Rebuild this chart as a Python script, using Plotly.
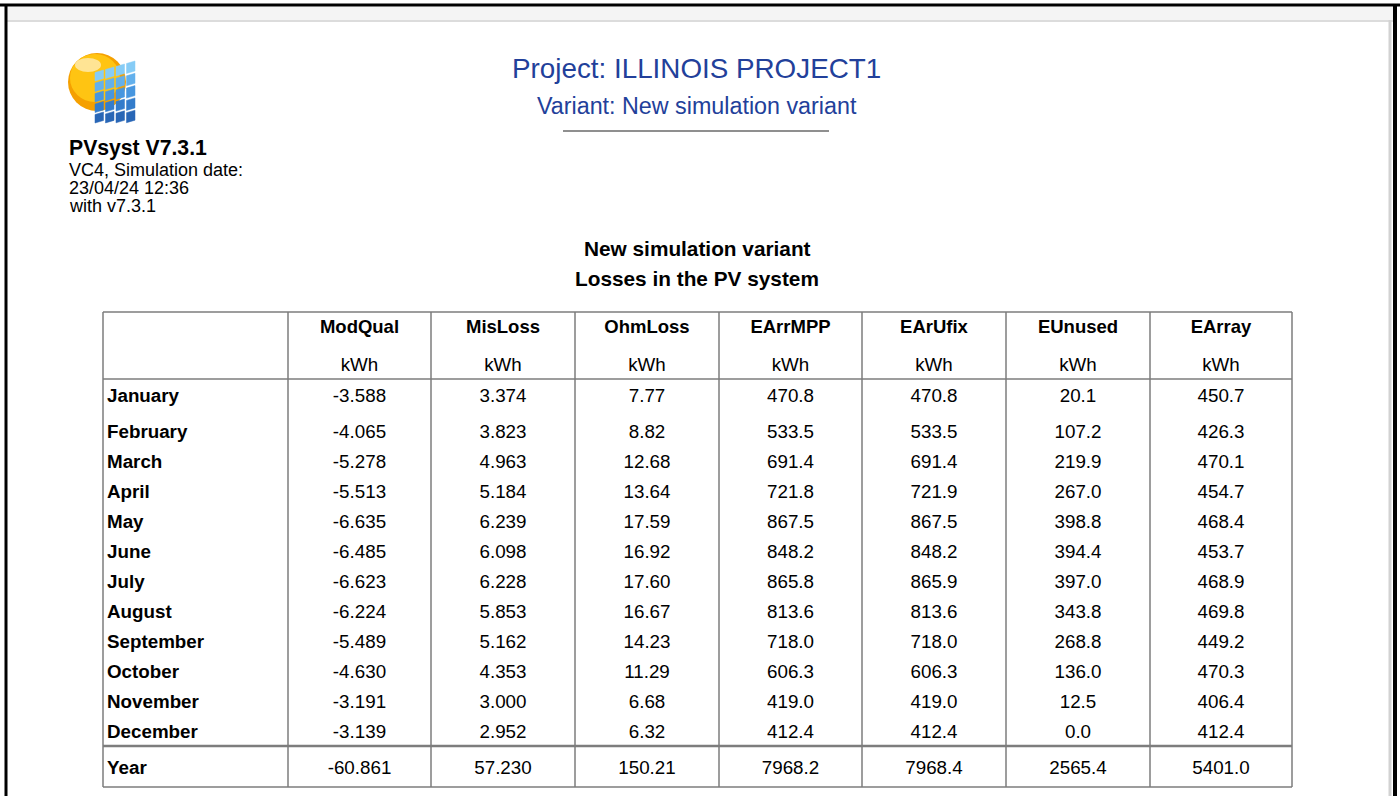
import plotly.graph_objects as go

# table data (PVsyst "Losses in the PV system")
months = ["January", "February", "March", "April", "May", "June", "July",
          "August", "September", "October", "November", "December"]
columns = ["ModQual", "MisLoss", "OhmLoss", "EArrMPP", "EArUfix", "EUnused", "EArray"]
units = ["kWh", "kWh", "kWh", "kWh", "kWh", "kWh", "kWh"]
decimals = [3, 3, 2, 1, 1, 1, 1]

mod_qual = [-3.588, -4.065, -5.278, -5.513, -6.635, -6.485, -6.623, -6.224, -5.489, -4.630, -3.191, -3.139]
mis_loss = [3.374, 3.823, 4.963, 5.184, 6.239, 6.098, 6.228, 5.853, 5.162, 4.353, 3.000, 2.952]
ohm_loss = [7.77, 8.82, 12.68, 13.64, 17.59, 16.92, 17.60, 16.67, 14.23, 11.29, 6.68, 6.32]
e_arr_mpp = [470.8, 533.5, 691.4, 721.8, 867.5, 848.2, 865.8, 813.6, 718.0, 606.3, 419.0, 412.4]
e_ar_ufix = [470.8, 533.5, 691.4, 721.9, 867.5, 848.2, 865.9, 813.6, 718.0, 606.3, 419.0, 412.4]
e_unused = [20.1, 107.2, 219.9, 267.0, 398.8, 394.4, 397.0, 343.8, 268.8, 136.0, 12.5, 0.0]
e_array = [450.7, 426.3, 470.1, 454.7, 468.4, 453.7, 468.9, 469.8, 449.2, 470.3, 406.4, 412.4]
year_label = "Year"
year_totals = [-60.861, 57.230, 150.21, 7968.2, 7968.4, 2565.4, 5401.0]

series = [mod_qual, mis_loss, ohm_loss, e_arr_mpp, e_ar_ufix, e_unused, e_array]

# page layout (pixel coordinates on a hidden 1400x796 axis)
W, H = 1400, 796
FONT = "Liberation Sans, Arial, sans-serif"
BLUE = "#22409a"
GRID = "#7d7d7d"
col_edges = [103, 288, 431, 575, 719, 862, 1006, 1150, 1292]
month_y = [397, 433, 463, 493, 523, 553, 583, 613, 643, 673, 703, 733]
year_y = 769
head_y, unit_y = 328, 366
tbl_top, head_bottom, year_sep, tbl_bottom = 312, 379, 746, 787
TS = 18.8

centers = [(col_edges[i] + col_edges[i + 1]) / 2 for i in range(1, len(col_edges) - 1)]

fig = go.Figure()

# column headers and units
fig.add_trace(go.Scatter(x=centers, y=[head_y] * len(columns), text=columns, mode="text",
                         textfont=dict(family=FONT, size=18.5, color="black", weight="bold"),
                         hoverinfo="skip"))
fig.add_trace(go.Scatter(x=centers, y=[unit_y] * len(units), text=units, mode="text",
                         textfont=dict(family=FONT, size=TS, color="black"), hoverinfo="skip"))

# row labels
fig.add_trace(go.Scatter(x=[col_edges[0] + 4] * (len(months) + 1), y=month_y + [year_y],
                         text=months + [year_label], mode="text", textposition="middle right",
                         textfont=dict(family=FONT, size=TS, color="black", weight="bold"),
                         hoverinfo="skip"))

# values
for cx, vals, d, tot in zip(centers, series, decimals, year_totals):
    labels = [f"{v:.{d}f}" for v in vals] + [f"{tot:.{d}f}"]
    fig.add_trace(go.Scatter(x=[cx] * len(labels), y=month_y + [year_y], text=labels, mode="text",
                             textfont=dict(family=FONT, size=TS, color="black"), hoverinfo="skip"))

shapes = []
# screenshot frame
shapes.append(dict(type="rect", x0=6, x1=1393, y0=7, y1=20, fillcolor="#f4f4f4", line_width=0, layer="below"))
shapes.append(dict(type="line", x0=6, x1=1393, y0=21, y1=21, line=dict(color="#dcdcdc", width=2)))
shapes.append(dict(type="line", x0=1390, x1=1390, y0=20, y1=H, line=dict(color="#d2d2d2", width=3)))
shapes.append(dict(type="line", x0=0, x1=W, y0=5, y1=5, line=dict(color="black", width=3)))
shapes.append(dict(type="line", x0=6, x1=6, y0=4, y1=H, line=dict(color="black", width=3)))
shapes.append(dict(type="line", x0=1395, x1=1395, y0=4, y1=H, line=dict(color="black", width=4)))

# variant underline
shapes.append(dict(type="line", x0=563, x1=829, y0=131, y1=131, line=dict(color="#6a6a6a", width=1.5)))

# table grid
for x in col_edges:
    shapes.append(dict(type="line", x0=x, x1=x, y0=tbl_top, y1=tbl_bottom, line=dict(color=GRID, width=1.5)))
for y in (tbl_top, head_bottom, tbl_bottom):
    shapes.append(dict(type="line", x0=col_edges[0], x1=col_edges[-1], y0=y, y1=y,
                       line=dict(color=GRID, width=1.5)))
shapes.append(dict(type="line", x0=col_edges[0], x1=col_edges[-1], y0=year_sep, y1=year_sep,
                   line=dict(color=GRID, width=2.5)))

# PVsyst logo: sun + panel
shapes.append(dict(type="circle", x0=68, x1=126, y0=53, y1=111, fillcolor="#f5a000", line_width=0))
shapes.append(dict(type="circle", x0=70, x1=120, y0=54, y1=102, fillcolor="#ffc412", line_width=0))
shapes.append(dict(type="circle", x0=75, x1=101, y0=58, y1=72, fillcolor="rgba(255,255,255,0.55)", line_width=0))
row_cols = ["#86ccf6", "#63b0ec", "#4796df", "#337ccb", "#2866b6"]
for i in range(4):
    x0 = 95 + i * 10.5
    x1 = x0 + 8.5
    top = 70 - i * 3.0
    for j, c in enumerate(row_cols):
        y0 = top + j * 10.5 + i * 0.6 * j
        y1 = y0 + 8.5 + i * 0.5
        sk = 2.5
        path = f"M{x0},{y0 + sk} L{x1},{y0} L{x1},{y1} L{x0},{y1 + sk} Z"
        shapes.append(dict(type="path", path=path, fillcolor=c, line=dict(color=c, width=0.5)))

annotations = [
    dict(x=696, y=68, text="Project: ILLINOIS PROJECT1", font=dict(family=FONT, size=27.8, color=BLUE)),
    dict(x=697, y=106, text="Variant: New simulation variant", font=dict(family=FONT, size=23.3, color=BLUE)),
    dict(x=697, y=248, text="New simulation variant", font=dict(family=FONT, size=20.8, color="black", weight="bold")),
    dict(x=697, y=278, text="Losses in the PV system", font=dict(family=FONT, size=20.8, color="black", weight="bold")),
    dict(x=67, y=148, text="PVsyst V7.3.1", xanchor="left", font=dict(family=FONT, size=21.2, color="black", weight="bold")),
    dict(x=67, y=170, text="VC4, Simulation date:", xanchor="left", font=dict(family=FONT, size=18, color="black")),
    dict(x=67, y=188, text="23/04/24 12:36", xanchor="left", font=dict(family=FONT, size=18, color="black")),
    dict(x=67, y=206, text="with v7.3.1", xanchor="left", font=dict(family=FONT, size=18, color="black")),
]
for a in annotations:
    a.update(xref="x", yref="y", showarrow=False, yanchor="middle")
    a.setdefault("xanchor", "center")

fig.update_layout(
    width=W, height=H,
    margin=dict(l=0, r=0, t=0, b=0),
    paper_bgcolor="white", plot_bgcolor="white",
    showlegend=False,
    xaxis=dict(range=[0, W], visible=False, fixedrange=True),
    yaxis=dict(range=[H, 0], visible=False, fixedrange=True),
    shapes=shapes,
    annotations=annotations,
)

fig.write_html("out.html", config={"displayModeBar": False},
               post_script="document.body.style.margin='0px';")
